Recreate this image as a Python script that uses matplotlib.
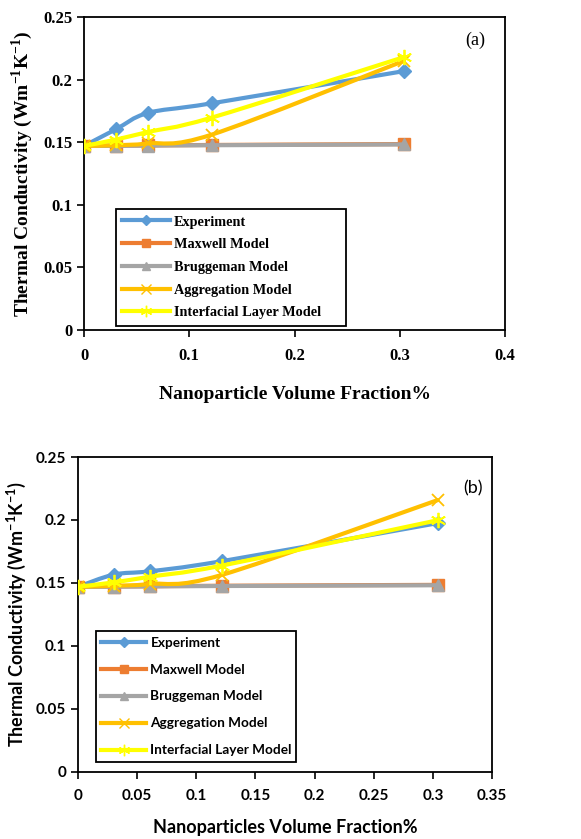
import numpy as np
import matplotlib.pyplot as plt
from matplotlib.path import Path
from matplotlib.patches import PathPatch
from matplotlib.lines import Line2D

plt.rcParams["mathtext.fontset"] = "custom"
plt.rcParams["mathtext.bf"] = "Liberation Serif:bold"
plt.rcParams["mathtext.sf"] = "Lato:bold"
plt.rcParams["font.weight"] = "bold"

# volume fractions (%)
phi = [0.0, 0.0304, 0.0608, 0.1215, 0.304]

labels = ["Experiment", "Maxwell Model", "Bruggeman Model",
          "Aggregation Model", "Interfacial Layer Model"]

# panel (a)
exp_a = [0.147, 0.1604, 0.1734, 0.1811, 0.2068]
max_a = [0.147, 0.1472, 0.1474, 0.1478, 0.1485]
bru_a = [0.147, 0.1471, 0.1473, 0.1476, 0.1482]
agg_a = [0.147, 0.1476, 0.1490, 0.1561, 0.2150]
int_a = [0.147, 0.1521, 0.1582, 0.1697, 0.2180]

# panel (b)
exp_b = [0.147, 0.1567, 0.1593, 0.1673, 0.1975]
max_b = [0.147, 0.1472, 0.1474, 0.1478, 0.1485]
bru_b = [0.147, 0.1471, 0.1473, 0.1476, 0.1482]
agg_b = [0.147, 0.1478, 0.1492, 0.1564, 0.2158]
int_b = [0.147, 0.1505, 0.1550, 0.1638, 0.1998]

yticks = [0, 0.05, 0.1, 0.15, 0.2, 0.25]
ytick_labels = ["0", "0.05", "0.1", "0.15", "0.2", "0.25"]
xticks_a = [0, 0.1, 0.2, 0.3, 0.4]
xtick_labels_a = ["0", "0.1", "0.2", "0.3", "0.4"]
xticks_b = [0, 0.05, 0.1, 0.15, 0.2, 0.25, 0.3, 0.35]
xtick_labels_b = ["0", "0.05", "0.1", "0.15", "0.2", "0.25", "0.3", "0.35"]

colors = ["#5B9BD5", "#ED7D31", "#A5A5A5", "#FFC000", "#FFFF00"]
markers = ["D", "s", "^", "x", (6, 2, 0)]
msizes = [7, 8, 8, 9, 11]


def smooth_path(x, y):
    # Excel style smoothed line: cubic bezier segments through the points
    pts = np.column_stack([x, y])
    n = len(pts)
    verts = [pts[0]]
    codes = [Path.MOVETO]
    for i in range(n - 1):
        p0 = pts[i - 1] if i > 0 else pts[i]
        p1 = pts[i]
        p2 = pts[i + 1]
        p3 = pts[i + 2] if i + 2 < n else pts[i + 1]
        c1 = p1 + (p2 - p0) / 6
        c2 = p2 - (p3 - p1) / 6
        verts += [c1, c2, p2]
        codes += [Path.CURVE4] * 3
    return Path(verts, codes)


def draw_panel(ax, series, font, tsize, legsize, labelspacing, borderpad,
               xticks, xtl, xpad, legbox):
    for k, ys in enumerate(series):
        patch = PathPatch(smooth_path(phi, ys), facecolor="none",
                          edgecolor=colors[k], lw=3, zorder=2 + k,
                          capstyle="round", joinstyle="round")
        ax.add_patch(patch)
        mk = markers[k]
        if mk in ("x", (6, 2, 0)):
            ax.plot(phi, ys, ls="none", marker=mk, ms=msizes[k],
                    mec=colors[k], mew=1.3, zorder=2.5 + k)
        else:
            ax.plot(phi, ys, ls="none", marker=mk, ms=msizes[k],
                    mfc=colors[k], mec=colors[k], zorder=2.5 + k)
    for s in ax.spines.values():
        s.set_linewidth(1.3)
    ax.set_ylim(0, 0.25)
    ax.set_xlim(xticks[0], xticks[-1])
    ax.set_xticks(xticks, xtl)
    ax.set_yticks(yticks, ytick_labels)
    ax.tick_params(direction="out", length=5, width=1.2,
                   labelsize=tsize, labelfontfamily=font)
    ax.tick_params(axis="x", pad=xpad)
    handles = [Line2D([], [], color=colors[k], lw=3, marker=markers[k],
                      ms=msizes[k] * 0.75, mfc=colors[k], mec=colors[k],
                      mew=1.0) for k in range(5)]
    leg = ax.legend(handles, labels, prop={"family": font, "weight": "bold",
                                           "size": legsize},
                    fancybox=False, edgecolor="black", framealpha=1,
                    handlelength=3.3, handletextpad=0.3,
                    labelspacing=labelspacing, borderpad=borderpad,
                    borderaxespad=0, loc="lower left", mode="expand",
                    bbox_to_anchor=legbox)
    leg.get_frame().set_linewidth(1.3)
    return leg


fig = plt.figure(figsize=(5.81, 8.39), dpi=100)

# ----- (a)
plt.rcParams["font.family"] = "Liberation Serif"
ax1 = fig.add_axes([0.1446, 0.6067, 0.7246, 0.373])
draw_panel(ax1, [exp_a, max_a, bru_a, agg_a, int_a],
           "Liberation Serif", 12, 10.3, 0.68, 0.45,
           xticks_a, xtick_labels_a, 8, (0.076, 0.013, 0.546, 0.364))
ax1.set_xlabel("Nanoparticle Volume Fraction%", fontfamily="Liberation Serif",
               fontweight="bold", fontsize=14, labelpad=16)
ax1.set_ylabel("Thermal Conductivity (Wm$^{\\mathbf{-1}}$K$^{\\mathbf{-1}}$)",
               fontfamily="Liberation Serif", fontweight="bold",
               fontsize=14, labelpad=6)
ax1.text(0.93, 0.925, "(a)", transform=ax1.transAxes, ha="center",
         va="center", fontfamily="Liberation Serif", fontweight="normal",
         fontsize=13)

# ----- (b)
plt.rcParams["font.family"] = "Lato"
ax2 = fig.add_axes([0.1343, 0.0799, 0.7126, 0.3754])
draw_panel(ax2, [exp_b, max_b, bru_b, agg_b, int_b],
           "Lato", 11, 9.8, 1.1, 0.4,
           xticks_b, xtick_labels_b, 7, (0.0435, 0.032, 0.483, 0.43))
ax2.set_xlabel("Nanoparticles Volume Fraction%", fontfamily="Lato",
               fontweight="bold", fontsize=13, labelpad=12)
ax2.set_ylabel("Thermal Conductivity (Wm$^{\\mathsf{-1}}$K$^{\\mathsf{-1}}$)",
               fontfamily="Lato", fontweight="bold", fontsize=13, labelpad=6)
ax2.text(0.954, 0.9, "(b)", transform=ax2.transAxes, ha="center",
         va="center", fontfamily="Lato", fontweight="normal", fontsize=13)

fig.savefig("out.png", dpi=100)
